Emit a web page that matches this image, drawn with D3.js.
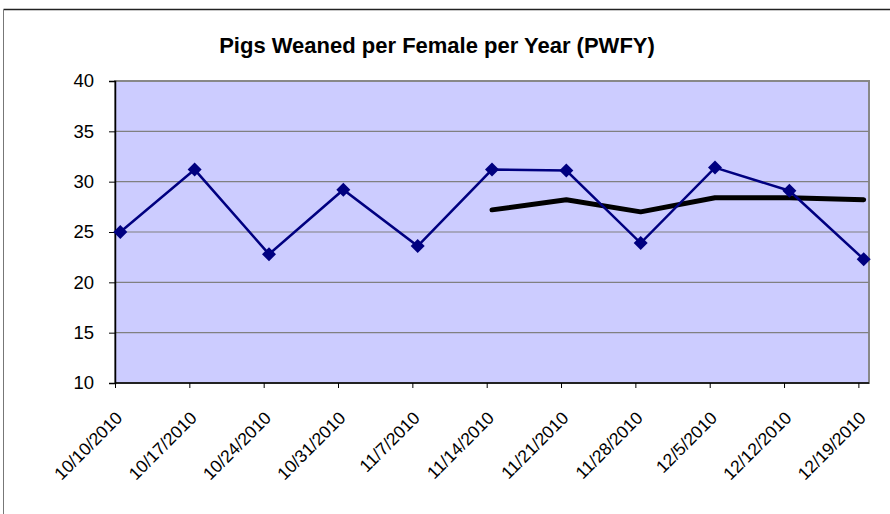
<!DOCTYPE html>
<html>
<head>
<meta charset="utf-8">
<script src="https://cdn.jsdelivr.net/npm/d3@7"></script>
<style>
  body { margin: 0; background: #fff; }
  svg text { font-family: Arial, "Liberation Sans", sans-serif; }
</style>
</head>
<body>
<svg id="canvas" width="890" height="514"></svg>
<script>

// week starting dates shown on the x axis
const weeks = ['10/10/2010', '10/17/2010', '10/24/2010', '10/31/2010', '11/7/2010', '11/14/2010',
               '11/21/2010', '11/28/2010', '12/5/2010', '12/12/2010', '12/19/2010']

// weekly PWFY (blue line with diamonds)
const pwfy = [25.0, 31.2, 22.8, 29.2, 23.6, 31.2, 31.1, 23.9, 31.4, 29.1, 22.3]

// rolling average (black line), only from 11/14 on
const rolling = [null, null, null, null, null, 27.2, 28.2, 27.0, 28.4, 28.4, 28.2]

const yTicks = [10, 15, 20, 25, 30, 35, 40]

const title = 'Pigs Weaned per Female per Year (PWFY)'

let canvas = d3.select('#canvas')

const plotLeft = 115, plotRight = 869, plotTop = 81, plotBottom = 383

const parseDate = (s) => {
    let p = s.split('/').map(Number)
    return new Date(Date.UTC(p[2], p[0] - 1, p[1]))
}
const dates = weeks.map(parseDate)
const halfDay = 12 * 3600 * 1000

const xScale = d3.scaleUtc()
    .domain([dates[0], new Date(dates[dates.length - 1].getTime() + 2 * halfDay)])
    .range([plotLeft, plotRight])

const yScale = d3.scaleLinear()
    .domain([10, 40])
    .range([plotBottom, plotTop])

// outer chart frame (cut off at right/bottom)
canvas.append('line')
    .attr('x1', 3.5).attr('x2', 890).attr('y1', 9.5).attr('y2', 9.5)
    .attr('stroke', '#222').attr('stroke-width', 1.5)
canvas.append('line')
    .attr('x1', 3.5).attr('x2', 3.5).attr('y1', 9.5).attr('y2', 514)
    .attr('stroke', '#777').attr('stroke-width', 1)

// title
canvas.append('text')
    .attr('x', 437)
    .attr('y', 53)
    .attr('text-anchor', 'middle')
    .attr('font-weight', 'bold')
    .attr('font-size', '22px')
    .text(title)

// plot area
canvas.append('rect')
    .attr('x', plotLeft).attr('y', plotTop)
    .attr('width', plotRight - plotLeft).attr('height', plotBottom - plotTop)
    .attr('fill', '#ccccff')
    .attr('stroke', '#888')
    .attr('stroke-width', 2)

// gridlines
canvas.selectAll('.grid')
    .data(yTicks.filter(d => d > 10 && d < 40))
    .enter()
    .append('line')
    .attr('class', 'grid')
    .attr('x1', plotLeft).attr('x2', plotRight)
    .attr('y1', d => yScale(d)).attr('y2', d => yScale(d))
    .attr('stroke', '#808080')
    .attr('stroke-width', 1.2)

// y axis
let yAxis = d3.axisLeft(yScale)
    .tickValues(yTicks)
    .tickSize(6)
    .tickPadding(15)
canvas.append('g')
    .attr('transform', 'translate(' + plotLeft + ',0)')
    .call(yAxis)
    .call(g => g.select('.domain').attr('stroke', '#000').attr('stroke-width', 1.5))
    .call(g => g.selectAll('text').attr('font-size', '18.5px').attr('fill', '#000').attr('font-family', null))

// x axis
let xAxis = d3.axisBottom(xScale)
    .tickValues(dates)
    .tickSize(5)
    .tickFormat((d, i) => weeks[i])
canvas.append('g')
    .attr('transform', 'translate(0,' + plotBottom + ')')
    .call(xAxis)
    .call(g => g.select('.domain').attr('stroke', '#000').attr('stroke-width', 1.5).attr('d', 'M' + plotLeft + ',0H' + plotRight))
    .call(g => g.selectAll('text')
        .attr('font-size', '17.5px')
        .attr('fill', '#000')
        .attr('font-family', null)
        .attr('text-anchor', 'end')
        .attr('y', 0)
        .attr('dy', 0)
        .attr('transform', 'translate(8,36) rotate(-45)'))

const px = (d, i) => xScale(new Date(dates[i].getTime() + halfDay))

// rolling average line
let rollLine = d3.line()
    .defined(d => d !== null)
    .x((d, i) => px(d, i))
    .y(d => yScale(d))
canvas.append('path')
    .datum(rolling)
    .attr('d', rollLine)
    .attr('fill', 'none')
    .attr('stroke', '#000')
    .attr('stroke-width', 5)
    .attr('stroke-linejoin', 'round')
    .attr('stroke-linecap', 'round')

// pwfy line
let pwfyLine = d3.line()
    .x((d, i) => px(d, i))
    .y(d => yScale(d))
canvas.append('path')
    .datum(pwfy)
    .attr('d', pwfyLine)
    .attr('fill', 'none')
    .attr('stroke', '#000080')
    .attr('stroke-width', 2.5)

// diamond markers
canvas.selectAll('.marker')
    .data(pwfy)
    .enter()
    .append('path')
    .attr('class', 'marker')
    .attr('d', 'M0,-7L7,0L0,7L-7,0Z')
    .attr('transform', (d, i) => 'translate(' + px(d, i) + ',' + yScale(d) + ')')
    .attr('fill', '#000080')
</script>
</body>
</html>
